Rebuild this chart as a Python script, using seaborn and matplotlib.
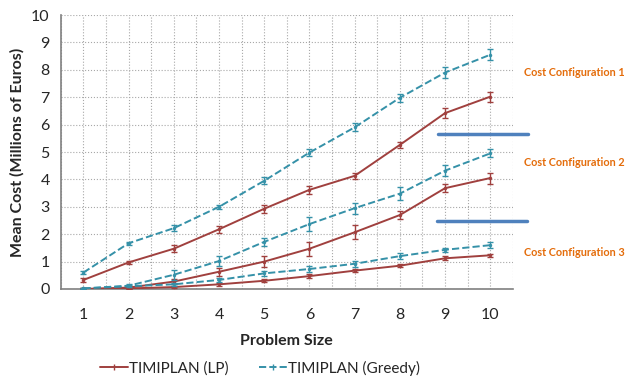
import numpy as np
import pandas as pd
import matplotlib
matplotlib.use("Agg")
import matplotlib.pyplot as plt
from matplotlib.lines import Line2D
import seaborn as sns

sizes = [1, 2, 3, 4, 5, 6, 7, 8, 9, 10]

# cost configuration 1
c1_lp = [0.33, 0.97, 1.47, 2.18, 2.93, 3.62, 4.13, 5.26, 6.42, 7.02]
c1_lp_err = [0.08, 0.06, 0.12, 0.12, 0.15, 0.15, 0.10, 0.12, 0.18, 0.18]
c1_gr = [0.60, 1.67, 2.22, 3.00, 3.95, 4.98, 5.90, 6.98, 7.90, 8.55]
c1_gr_err = [0.05, 0.05, 0.12, 0.08, 0.12, 0.12, 0.15, 0.15, 0.20, 0.20]

# cost configuration 2
c2_lp = [0.00, 0.05, 0.27, 0.63, 1.00, 1.47, 2.07, 2.70, 3.68, 4.05]
c2_lp_err = [0.02, 0.05, 0.08, 0.15, 0.20, 0.25, 0.25, 0.15, 0.15, 0.20]
c2_gr = [0.02, 0.12, 0.52, 1.02, 1.72, 2.37, 2.95, 3.48, 4.32, 4.95]
c2_gr_err = [0.02, 0.08, 0.18, 0.18, 0.15, 0.25, 0.20, 0.25, 0.20, 0.15]

# cost configuration 3
c3_lp = [0.00, 0.02, 0.07, 0.17, 0.30, 0.47, 0.67, 0.85, 1.12, 1.23]
c3_lp_err = [0.02, 0.02, 0.05, 0.05, 0.06, 0.08, 0.06, 0.06, 0.08, 0.06]
c3_gr = [0.02, 0.10, 0.17, 0.33, 0.57, 0.73, 0.92, 1.20, 1.43, 1.60]
c3_gr_err = [0.02, 0.03, 0.06, 0.06, 0.10, 0.10, 0.10, 0.10, 0.08, 0.12]

config_labels = ["Cost Configuration 1", "Cost Configuration 2", "Cost Configuration 3"]

LP_COLOR = "#A0403E"
GR_COLOR = "#3591A8"

sns.set_style("white")
plt.rcParams['font.family'] = ['Lato', 'DejaVu Sans']

fig = plt.figure(figsize=(6.27, 3.8), dpi=100)
ax = fig.add_axes([0.097, 0.2395, 0.721, 0.721])

series = [
    (c1_lp, c1_lp_err, LP_COLOR, "-"),
    (c1_gr, c1_gr_err, GR_COLOR, "--"),
    (c2_lp, c2_lp_err, LP_COLOR, "-"),
    (c2_gr, c2_gr_err, GR_COLOR, "--"),
    (c3_lp, c3_lp_err, LP_COLOR, "-"),
    (c3_gr, c3_gr_err, GR_COLOR, "--"),
]
for vals, errs, col, ls in series:
    df = pd.DataFrame({"size": sizes, "cost": vals})
    sns.lineplot(data=df, x="size", y="cost", color=col, linestyle=ls,
                 linewidth=1.4, marker="o", markersize=2.5, markeredgewidth=0,
                 ax=ax, zorder=3)
    ax.errorbar(sizes, vals, yerr=errs, fmt="none", ecolor=col,
                elinewidth=1.0, capsize=2, capthick=1.0, zorder=3)

ax.set_xlim(0.5, 10.5)
ax.set_ylim(0, 10)
ax.set_xticks(sizes)
ax.set_xticks(np.arange(0.5, 11, 1.0), minor=True)
ax.set_yticks(range(0, 11))
ax.grid(True, which="both", axis="x", color="#A8A8A8", linestyle=":", linewidth=0.8)
ax.grid(True, which="major", axis="y", color="#A8A8A8", linestyle=":", linewidth=0.8)
ax.set_axisbelow(True)
for s in ["top", "right"]:
    ax.spines[s].set_visible(False)
for s in ["left", "bottom"]:
    ax.spines[s].set_color("#808080")
    ax.spines[s].set_linewidth(1.2)
ax.tick_params(axis="both", which="major", direction="out", length=4,
               color="#808080", labelsize=11.5, pad=10)
ax.tick_params(axis="x", which="minor", direction="out", length=4, color="#808080")
ax.tick_params(axis="y", pad=4)
ax.set_xlabel("Problem Size", fontsize=11.5, fontweight="bold", labelpad=8)
ax.set_ylabel("Mean Cost (Millions of Euros)", fontsize=11.5, fontweight="bold", labelpad=5)

# configuration labels and separators on the right
for label, ypix in zip(config_labels, [72, 162, 252]):
    fig.text(574 / 627, 1 - ypix / 380, label, color="#E46C0A", fontsize=7.8,
             fontweight="bold", ha="center", va="center")
for ypix, x0 in [(134, 438), (221, 437)]:
    fig.add_artist(Line2D([x0 / 627, (x0 + 90) / 627], [1 - ypix / 380] * 2,
                          color="#4F81BD", linewidth=2.5, transform=fig.transFigure))

handles = [
    Line2D([], [], color=LP_COLOR, linestyle="-", linewidth=1.4, marker="|", markersize=4),
    Line2D([], [], color=GR_COLOR, linestyle="--", linewidth=1.4, marker="|", markersize=4),
]
fig.legend(handles, ["TIMIPLAN (LP)", "TIMIPLAN (Greedy)"], loc="center",
           bbox_to_anchor=(0.415, 1 - 368 / 380), ncol=2, frameon=False,
           fontsize=11, handlelength=1.8, handletextpad=0.1, columnspacing=2.0)

fig.savefig("out.png", dpi=100)
